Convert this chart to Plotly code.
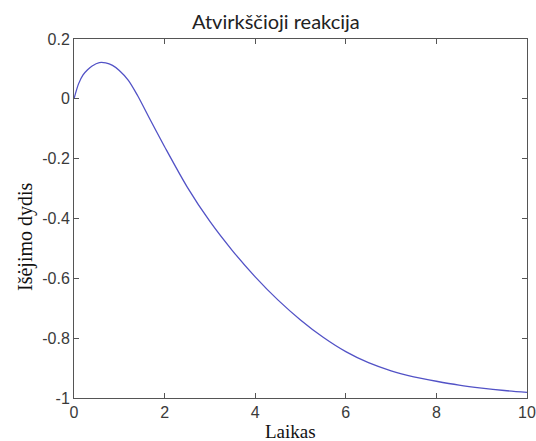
import plotly.graph_objects as go

# Data
time_s = [0, 0.1, 0.2, 0.3, 0.4, 0.56, 0.7, 0.85, 1.0, 1.2, 1.4, 1.7, 2.0, 2.5, 3.0, 3.5,
          4.0, 4.5, 5.0, 5.5, 6.0, 6.5, 7.0, 7.5, 8.0, 8.5, 9.0, 9.5, 10.0]
output = [0, 0.05, 0.08, 0.097, 0.11, 0.121, 0.12, 0.112, 0.095, 0.062, 0.012, -0.075, -0.16,
          -0.295, -0.41, -0.508, -0.595, -0.672, -0.739, -0.797, -0.845, -0.882, -0.909, -0.929,
          -0.944, -0.957, -0.967, -0.975, -0.981]

x_tickvals = [0, 2, 4, 6, 8, 10]
x_ticktext = ["0", "2", "4", "6", "8", "10"]
y_tickvals = [0.2, 0, -0.2, -0.4, -0.6, -0.8, -1]
y_ticktext = ["0.2", "0", "-0.2", "-0.4", "-0.6", "-0.8", "-1"]

title_text = "Atvirkščioji reakcija"
x_label = "Laikas"
y_label = "Išėjimo dydis"

fig = go.Figure()
fig.add_trace(go.Scatter(x=time_s, y=output, mode="lines",
                         line=dict(color="#5252c6", width=1.3, shape="spline", smoothing=0.8),
                         showlegend=False, hoverinfo="skip"))

axis_common = dict(showline=True, linecolor="#555555", linewidth=1, mirror="ticks",
                   ticks="inside", ticklen=5, tickcolor="#555555", tickwidth=1,
                   showgrid=False, zeroline=False, ticklabeloverflow="allow",
                   tickfont=dict(family="Liberation Sans, Arial", size=16, color="#3a3a3a"))

fig.update_xaxes(range=[0, 10], tickvals=x_tickvals, ticktext=x_ticktext, **axis_common)
fig.update_yaxes(range=[-1, 0.2], tickvals=y_tickvals, ticktext=y_ticktext, **axis_common)

fig.update_layout(
    width=536, height=441,
    margin=dict(l=74, r=0, t=39, b=43),
    paper_bgcolor="white", plot_bgcolor="white",
    annotations=[
        dict(text=title_text, xref="paper", yref="paper", x=0.445, y=1.05,
             xanchor="center", yanchor="middle", showarrow=False,
             font=dict(family="Lato", size=20, color="#222222")),
        dict(text=x_label, xref="paper", yref="paper", x=0.477, y=-0.092,
             xanchor="center", yanchor="middle", showarrow=False,
             font=dict(family="Liberation Serif", size=19, color="#111111")),
        dict(text=y_label, xref="paper", yref="paper", x=-0.107, y=0.45,
             xanchor="center", yanchor="middle", showarrow=False, textangle=-90,
             font=dict(family="Liberation Serif", size=20, color="#111111")),
    ],
)

fig.write_html("out.html")
